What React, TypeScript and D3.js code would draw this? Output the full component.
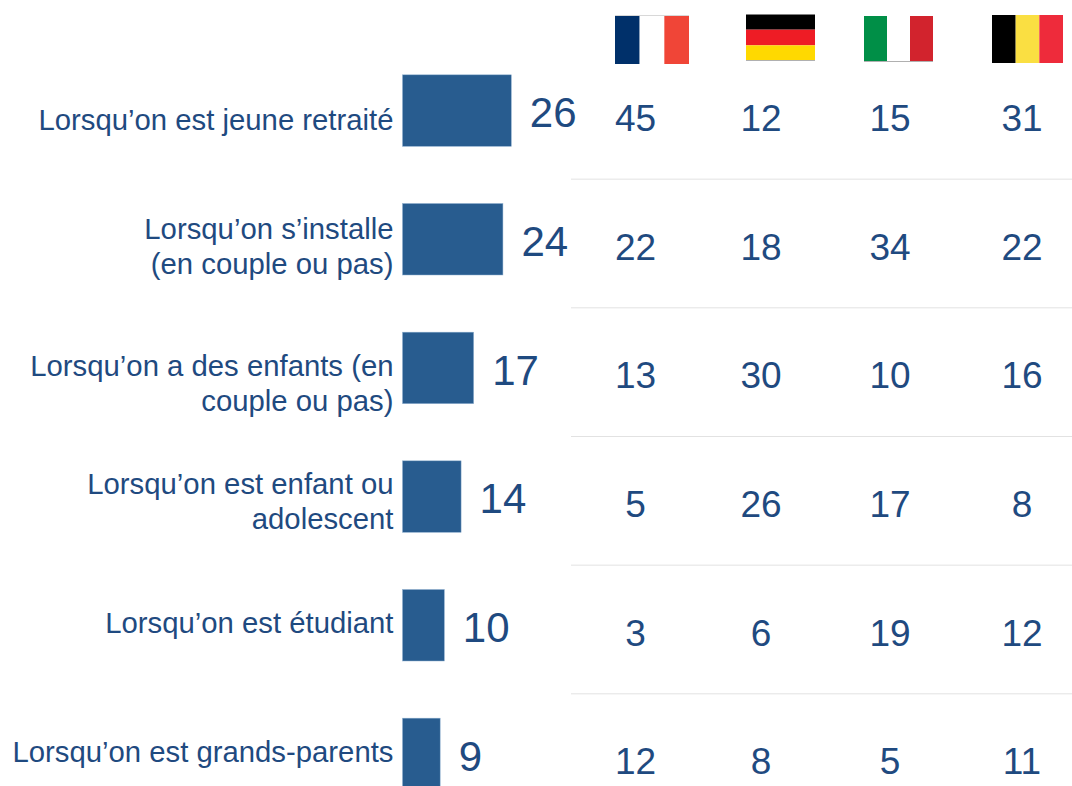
import React from "react";
import * as d3 from "d3";

const categories: string[][] = [
  ["Lorsqu’on est jeune retraité"],
  ["Lorsqu’on s’installe", "(en couple ou pas)"],
  ["Lorsqu’on a des enfants (en", "couple ou pas)"],
  ["Lorsqu’on est enfant ou", "adolescent"],
  ["Lorsqu’on est étudiant"],
  ["Lorsqu’on est grands-parents"],
];
const overall = [26, 24, 17, 14, 10, 9];
const france = [45, 22, 13, 5, 3, 12];
const germany = [12, 18, 30, 26, 6, 8];
const italy = [15, 34, 10, 17, 19, 5];
const belgium = [31, 22, 16, 8, 12, 11];

const columns = [france, germany, italy, belgium];
const columnX = [635.5, 761, 890, 1022];
const labelShift = [20, 0, 8.5, -2, 8, 8.5];
const blue = "#1f4a80";
const barBlue = "#285c8f";
const font = "'Liberation Sans', Arial, sans-serif";

const rowScale = d3.scaleBand<number>().domain(d3.range(6)).range([51, 823]);
const xScale = d3.scaleLinear().domain([0, 26]).range([402.5, 511.3]);

type FlagProps = { x: number; y: number; w: number; h: number; colors: string[]; vertical: boolean; top?: string; bottom?: string };

function Flag({ x, y, w, h, colors, vertical, top, bottom }: FlagProps) {
  const s = d3.scaleBand<number>().domain(d3.range(colors.length)).range(vertical ? [x, x + w] : [y, y + h]);
  return (
    <g>
      {colors.map((c, i) =>
        vertical ? (
          <rect key={i} x={s(i)} y={y} width={s.bandwidth()} height={h} fill={c} />
        ) : (
          <rect key={i} x={x} y={s(i)} width={w} height={s.bandwidth()} fill={c} />
        )
      )}
      {top && <line x1={x} x2={x + w} y1={y + 0.5} y2={y + 0.5} stroke={top} />}
      {bottom && <line x1={x} x2={x + w} y1={y + h - 0.5} y2={y + h - 0.5} stroke={bottom} />}
    </g>
  );
}

export default function App() {
  const cy = (i: number) => (rowScale(i) as number) + rowScale.bandwidth() / 2 - 5;
  return (
    <svg width={1072} height={786} style={{ position: "absolute", left: 0, top: 0, background: "#fff" }} fontFamily={font}>
      <Flag x={615} y={15} w={74} h={49} colors={["#00306a", "#ffffff", "#f04537"]} vertical top="#d8d8d8" />
      <Flag x={746} y={14} w={69} h={47} colors={["#000000", "#ee1c25", "#ffd900"]} vertical={false} top="#808080" bottom="#b0b0b0" />
      <Flag x={864} y={16} w={69} h={46} colors={["#008f47", "#ffffff", "#d2232d"]} vertical bottom="#b0b0b0" />
      <Flag x={992} y={15} w={71} h={48} colors={["#000000", "#fadf42", "#ee2b3b"]} vertical />
      {categories.map((lines, i) => {
        const c = cy(i);
        return (
          <g key={i}>
            {i > 0 && <line x1={571} x2={1072} y1={(rowScale(i) as number) - 0.5} y2={(rowScale(i) as number) - 0.5} stroke="#e2e2e2" strokeWidth={1} />}
            <rect x={xScale(0)} y={c - 35.5} width={xScale(overall[i]) - xScale(0)} height={71.5} fill={barBlue} stroke="#8fb0d0" strokeWidth={0.5} />
            {lines.map((t, j) => (
              <text key={j} x={393.5} y={c + labelShift[i] + j * 34.8} textAnchor="end" fontSize={29.3} fill={blue}>
                {t}
              </text>
            ))}
            <text x={xScale(overall[i]) + 18.5} y={c + 17} fontSize={42} fill={blue}>
              {overall[i]}
            </text>
            {columns.map((col, k) => (
              <text key={k} x={columnX[k]} y={c + 20.5} textAnchor="middle" fontSize={37} fill={blue}>
                {col[i]}
              </text>
            ))}
          </g>
        );
      })}
    </svg>
  );
}
